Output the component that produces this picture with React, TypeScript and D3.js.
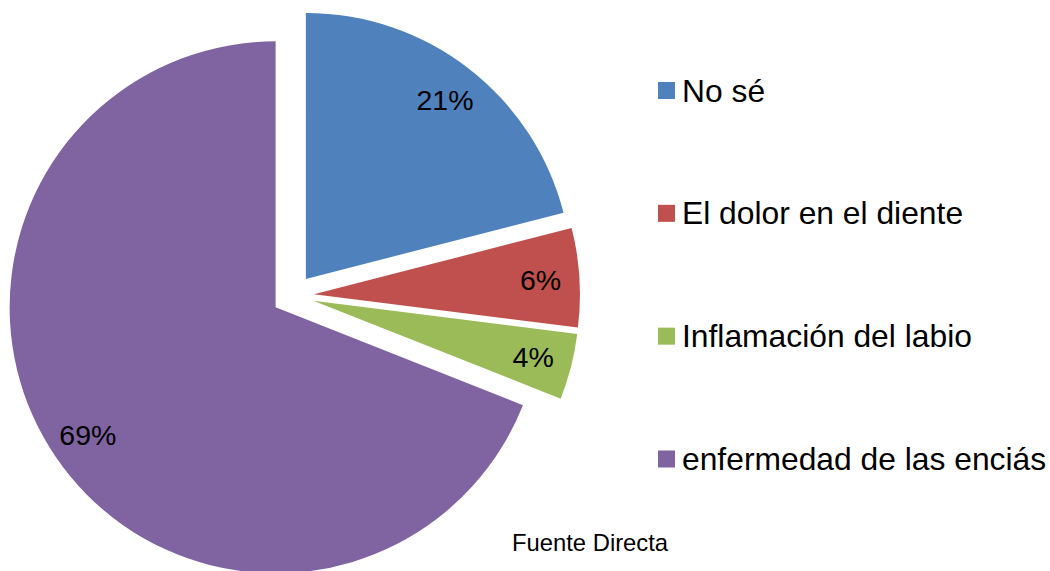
import React from "react";
import * as d3 from "d3";

const categories = ["No sé", "El dolor en el diente", "Inflamación del labio", "enfermedad de las enciás"];
const values = [21, 6, 4, 69];
const labels = ["21%", "6%", "4%", "69%"];
const colors = ["#4F81BD", "#C0504D", "#9BBB59", "#8064A2"];
const sourceNote = "Fuente Directa";

const W = 1050;
const H = 571;
const FONT = "'Liberation Sans', Arial, Helvetica, sans-serif";

export default function App() {
  const cx = 293;
  const cy = 295.5;
  const r = 266;
  const explode = 21;
  const labelR = 227;
  const labelFs = 28.5;
  const legendFs = 31.8;

  const pie = d3.pie<number>().sort(null).value((d) => d).startAngle(0).endAngle(2 * Math.PI);
  const arcs = pie(values);
  const arcGen = d3.arc<d3.PieArcDatum<number>>().innerRadius(0).outerRadius(r);

  const legendY = d3.scalePoint<number>().domain(d3.range(categories.length)).range([90.5, 459]);

  return (
    <svg
      width={W}
      height={H}
      style={{ position: "absolute", left: 0, top: 0, display: "block", background: "#fff" }}
      fontFamily={FONT}
    >
      <rect x={0} y={0} width={W} height={H} fill="#fff" />
      {arcs.map((a, i) => {
        const mid = (a.startAngle + a.endAngle) / 2;
        const ox = cx + Math.sin(mid) * explode;
        const oy = cy - Math.cos(mid) * explode;
        const lx = ox + Math.sin(mid) * labelR;
        const ly = oy - Math.cos(mid) * labelR;
        return (
          <g key={i} transform={`translate(${ox},${oy})`}>
            <path d={arcGen(a) || ""} fill={colors[i]} />
            <text
              x={lx - ox}
              y={ly - oy + labelFs * 0.358}
              textAnchor="middle"
              fontSize={labelFs}
              fill="#000"
            >
              {labels[i]}
            </text>
          </g>
        );
      })}
      {categories.map((c, i) => {
        const y = legendY(i) as number;
        return (
          <g key={c}>
            <rect x={658} y={y - 8.5} width={17} height={17} fill={colors[i]} />
            <text x={682} y={y + 11} fontSize={legendFs} fill="#000">
              {c}
            </text>
          </g>
        );
      })}
      <text x={512} y={551} fontSize={23.8} fill="#000">
        {sourceNote}
      </text>
    </svg>
  );
}
